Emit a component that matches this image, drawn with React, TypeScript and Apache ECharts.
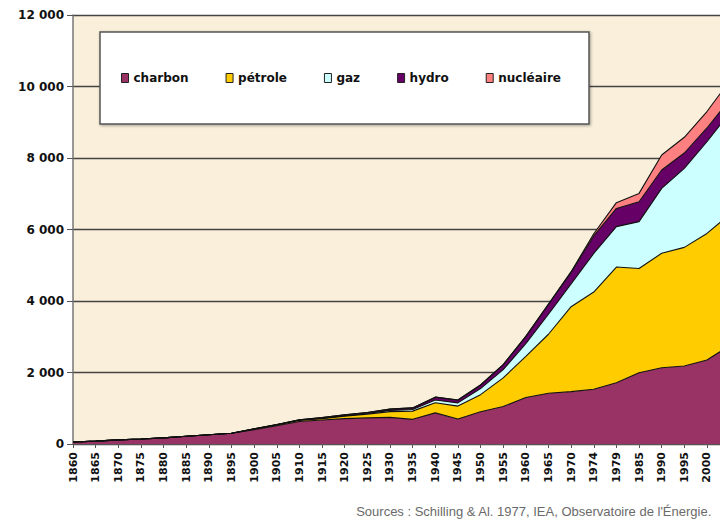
import React, { useEffect, useRef } from "react";
import * as echarts from "echarts";

const years = [
  "1860", "1865", "1870", "1875", "1880", "1885", "1890", "1895", "1900", "1905",
  "1910", "1915", "1920", "1925", "1930", "1935", "1940", "1945", "1950", "1955",
  "1960", "1965", "1970", "1974", "1979", "1985", "1990", "1995", "2000", "2004",
];

const charbon = [55, 80, 115, 140, 170, 215, 260, 300, 400, 510, 630, 670, 710, 730, 745, 690, 870, 700, 900, 1050, 1300, 1420, 1465, 1530, 1715, 1995, 2135, 2180, 2350, 2750];
const petrole = [0, 0, 0, 0, 0, 0, 0, 0, 15, 20, 30, 40, 70, 105, 160, 230, 285, 360, 480, 800, 1150, 1650, 2375, 2720, 3235, 2915, 3200, 3320, 3540, 3670];
const gaz = [0, 0, 0, 0, 0, 0, 0, 0, 5, 8, 10, 12, 15, 20, 35, 45, 75, 90, 170, 230, 360, 560, 640, 1080, 1130, 1310, 1815, 2210, 2565, 2840];
const hydro = [0, 0, 0, 0, 0, 0, 0, 0, 5, 8, 10, 15, 20, 25, 35, 45, 80, 80, 100, 140, 200, 280, 320, 490, 510, 555, 515, 430, 385, 375];
const nucleaire = [0, 0, 0, 0, 0, 0, 0, 0, 0, 0, 0, 0, 0, 0, 0, 0, 0, 0, 0, 0, 0, 5, 20, 60, 160, 235, 420, 440, 460, 520];

const seriesNames = ["charbon", "pétrole", "gaz", "hydro", "nucléaire"];
const seriesColors = ["#993366", "#FFCC00", "#CCFFFF", "#660066", "#FF8080"];
const seriesValues = [charbon, petrole, gaz, hydro, nucleaire];

const yTicks = [0, 2000, 4000, 6000, 8000, 10000, 12000];
const sourceText = "Sources : Schilling & Al. 1977, IEA, Observatoire de l'Énergie.";

export default function App() {
  const ref = useRef<HTMLDivElement>(null);

  useEffect(() => {
    if (!ref.current) return;
    const chart = echarts.init(ref.current, null, { renderer: "svg" });
    const option = {
      animation: false,
      backgroundColor: "#ffffff",
      grid: {
        left: 73,
        right: 10.4,
        top: 15,
        bottom: 83,
        show: true,
        backgroundColor: "#F9EFDA",
        borderWidth: 0,
      },
      legend: {
        data: seriesNames,
        left: 121,
        top: 72,
        padding: 0,
        itemWidth: 7,
        itemHeight: 9,
        itemGap: 37,
        icon: "rect",
        z: 10,
        itemStyle: { borderColor: "#222", borderWidth: 1 },
        textStyle: {
          fontFamily: "DejaVu Sans",
          fontWeight: "bold",
          fontSize: 12,
          color: "#111",
        },
      },
      graphic: [
        {
          type: "rect",
          z: 5,
          shape: { x: 100, y: 32, width: 489, height: 92 },
          style: {
            fill: "#ffffff",
            stroke: "#555",
            lineWidth: 1.5,
            shadowBlur: 3,
            shadowOffsetX: 1,
            shadowOffsetY: 1,
            shadowColor: "rgba(0,0,0,0.35)",
          },
        },
        {
          type: "text",
          z: 5,
          right: 28,
          top: 505,
          style: {
            text: sourceText,
            fontFamily: "Liberation Sans",
            fontSize: 13,
            fill: "#6a6a6a",
          },
        },
      ],
      xAxis: {
        type: "category",
        data: years,
        boundaryGap: false,
        axisLine: { show: true, lineStyle: { color: "#555", width: 1 } },
        axisTick: { show: true, length: 4, lineStyle: { color: "#555" }, interval: 0 },
        axisLabel: {
          interval: 0,
          rotate: 90,
          margin: 8,
          fontFamily: "DejaVu Sans",
          fontWeight: "bold",
          fontSize: 11,
          color: "#111",
          formatter: (v: string, i: number) => (i === years.length - 1 ? "" : v),
        },
        splitLine: { show: false },
      },
      yAxis: {
        type: "value",
        min: yTicks[0],
        max: yTicks[yTicks.length - 1],
        interval: 2000,
        axisLine: { show: true, lineStyle: { color: "#777", width: 1.5 } },
        axisTick: { show: true, length: 6, lineStyle: { color: "#555" } },
        axisLabel: {
          margin: 9,
          fontFamily: "DejaVu Sans",
          fontWeight: "bold",
          fontSize: 12,
          color: "#111",
          formatter: (v: number) => (v === 0 ? "0" : `${v / 1000} 000`),
        },
        splitLine: { show: true, lineStyle: { color: "#444", width: 1.3 } },
      },
      series: seriesNames.map((name, k) => ({
        name,
        type: "line",
        stack: "total",
        symbol: "none",
        data: seriesValues[k],
        itemStyle: { color: seriesColors[k], borderColor: "#222", borderWidth: 1 },
        lineStyle: { color: "#111", width: 1.1 },
        areaStyle: { color: seriesColors[k], opacity: 1 },
        z: 2,
      })),
    };
    chart.setOption(option as any);
    return () => chart.dispose();
  }, []);

  return (
    <div
      style={{
        position: "fixed",
        left: 0,
        top: 0,
        width: 720,
        height: 527,
        overflow: "hidden",
        background: "#fff",
      }}
    >
      <div ref={ref} style={{ width: 740, height: 527 }} />
    </div>
  );
}
